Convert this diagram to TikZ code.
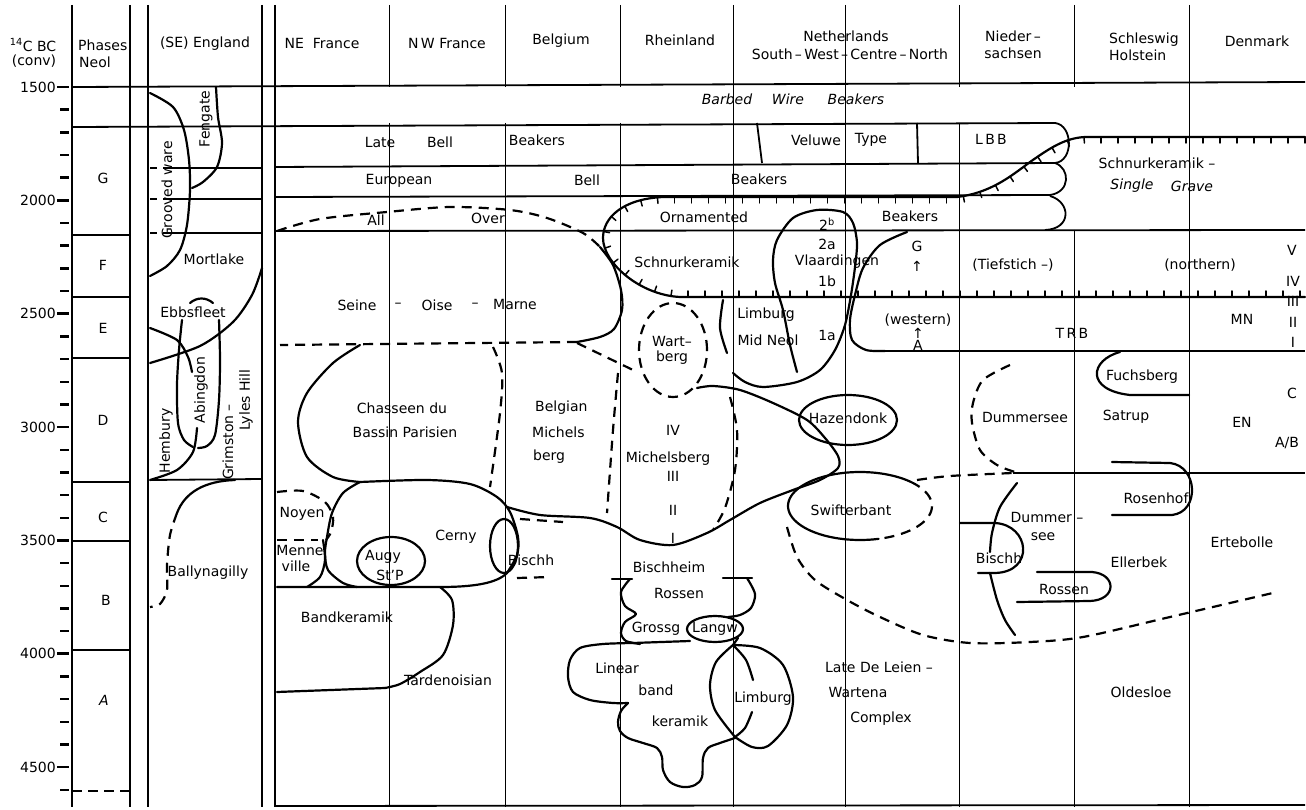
\documentclass[tikz,border=0pt]{standalone}
\usepackage{fontspec}
\setmainfont{DejaVu Sans}
\usetikzlibrary{decorations.markings}
\begin{document}
\begin{tikzpicture}[x=1pt,y=-1pt,
  lbl/.style={font=\fontsize{14}{16}\selectfont, inner sep=0pt},
  ilbl/.style={inner sep=0pt, font=\fontsize{14}{16}\selectfont\itshape},
  bnd/.style={line width=2.2pt, line join=round, line cap=round},
  dsh/.style={line width=2.2pt, dash pattern=on 10pt off 7pt},
  hl/.style={line width=1.8pt},
  vl/.style={line width=0.9pt},
  vk/.style={line width=1.6pt},
  tk/.style={line width=2.4pt},
  hatch/.style={postaction={decorate, decoration={markings,
     mark=between positions 0 and 1 step 17pt with {\draw[line width=1.5pt] (0pt,0pt) -- (0pt,6pt);}}}}
]
\useasboundingbox (0,0) rectangle (1306,810);
\fill[white] (0,0) rectangle (1306,810);

% ---------- vertical column lines ----------
\draw[line width=2pt] (72,5) -- (72,807);
\foreach \x in {130,148,262,275} \draw[vk] (\x,5) -- (\x,807);
\foreach \x in {389,505,620,959} { \draw[vl] (\x,5) -- (\x,87); \draw[vl] (\x,123) -- (\x,807); }
\draw[vl] (1074,5) -- (1074,87) (1074,230) -- (1074,807);
\foreach \x in {733,845,1189} \draw[vl] (\x,5) -- (\x,807);

% ---------- axis ----------
\foreach \k in {0,...,31} \draw[tk] (60,{87+22.67*\k}) -- (69,{87+22.67*\k});
\foreach \v [count=\i from 0] in {1500,2000,2500,3000,3500,4000,4500} {
  \node[lbl,anchor=east] (ax\v) at (56,{87+113.33*\i}) {\v};
  \draw[tk] (57,{87+113.33*\i}) -- (69,{87+113.33*\i});
}

% ---------- horizontal lines ----------
\draw[hl] (72,87) -- (1305,82);
\draw[hl] (72,127) -- (1055,123) .. controls (1073,125) and (1074,161) .. (1055,163) -- (275,167);
\draw[hl] (1055,163) .. controls (1070,168) and (1071,192) .. (1050,195) -- (275,197);
\draw[hl] (1050,196) .. controls (1071,202) and (1072,229) .. (1045,230);
\draw[hl] (275,231) -- (1305,230);
\foreach \y in {168,199,233} \draw[hl] (150,\y) -- (157,\y) (163,\y) -- (262,\y);
\foreach \y in {235,297,358,482,541,650} \draw[hl] (72,\y) -- (130,\y);
\draw[hl, dash pattern=on 10pt off 6pt] (72,791) -- (130,791);
\draw[hl] (275,806) -- (1305,805);
\draw[hl] (757,123) -- (762,163);
\draw[hl] (917,123) -- (918,163);

% ---------- corded ware / single grave hatched boundary ----------
\draw[bnd, hatch] (1305,137) -- (1085,137) .. controls (1065,138) and (1050,148) .. (1030,162)
  .. controls (1010,177) and (990,193) .. (957,197) -- (663,197)
  .. controls (622,199) and (603,218) .. (603,238)
  .. controls (603,263) and (640,295) .. (680,297) -- (1305,297);

% ---------- England ----------
\draw[bnd] plot[smooth] coordinates {(150,93) (173,107) (184,130) (189,160) (190,190) (187,225) (180,250) (167,266) (150,276)};
\draw[bnd] plot[smooth] coordinates {(216,87) (218,117) (222,143) (217,167) (203,182) (192,188)};
\draw[bnd] plot[smooth] coordinates {(262,268) (252,295) (233,322) (200,346) (150,363)};
\draw[bnd] plot[smooth] coordinates {(150,328) (177,340) (188,357) (192,372)};
\draw[bnd] (190,303) .. controls (197,297) and (206,297) .. (213,303);
\draw[bnd] plot[smooth] coordinates {(182,320) (179,350) (177,385) (178,423) (184,440) (193,447)};
\draw[bnd] plot[smooth] coordinates {(219,320) (220,360) (219,400) (215,435) (207,446) (198,448)};
\draw[bnd] plot[smooth] coordinates {(197,428) (193,452) (177,470) (150,480)};
\draw[hl] (150,480) -- (262,479);
\draw[bnd] (235,480) .. controls (205,481) and (185,492) .. (177,513);
\draw[dsh] plot[smooth] coordinates {(177,513) (170,535) (167,565) (167,590) (160,604) (150,607)};

% ---------- NE / NW France ----------
\draw[dsh] plot[smooth] coordinates {(277,231) (320,219) (387,212) (450,207) (510,210) (547,218) (583,233) (600,247)};
\draw[bnd] plot[smooth] coordinates {(600,247) (613,265) (621,290) (622,310) (614,329) (600,337) (577,342)};
\draw[dsh] (577,342) -- (280,345);
\draw[dsh] (577,343) -- (633,370);
\draw[bnd] plot[smooth] coordinates {(360,345) (333,363) (307,393) (298,422) (307,457) (333,477) (360,482)};
\draw[dsh] plot[smooth] coordinates {(493,347) (502,373) (500,413) (490,487)};
\draw[bnd] plot[smooth] coordinates {(360,482) (427,480) (470,484) (497,497) (510,512) (518,537) (517,555) (507,573)};
\draw[bnd] plot[smooth] coordinates {(360,482) (343,493) (332,513) (327,537) (325,553) (328,570) (343,583) (357,587)};
\draw[bnd] (277,587) -- (440,587) .. controls (475,587) and (497,583) .. (507,573);
\draw[bnd] plot[smooth] coordinates {(440,587) (452,600) (453,625) (443,655) (420,672) (400,684) (385,688)};
\draw[bnd] (385,688) -- (277,692);
\draw[bnd] plot[smooth] coordinates {(323,540) (325,560) (320,577) (307,587)};
\draw[dsh] plot[smooth] coordinates {(277,492) (303,491) (325,502) (333,517) (331,532) (326,540)};
\draw[dsh] (277,540) -- (318,540);
\draw[bnd] (391,561) ellipse [x radius=34pt, y radius=24pt];
\draw[bnd] (504,546) ellipse [x radius=14pt, y radius=27pt];
\draw[dsh] (520,519) -- (563,522);
\draw[dsh] (517,578) -- (550,577);

% ---------- Rheinland / Michelsberg ----------
\draw[bnd] plot[smooth] coordinates {(697,388) (713,386) (740,390) (773,403) (807,420) (825,438) (838,456) (838,468) (820,480) (793,490) (760,503) (730,520) (707,533) (673,545) (640,540) (617,527) (590,518) (540,515) (507,507)};
\draw[dsh] (673,350) ellipse [x radius=34pt, y radius=47pt];
\draw[dsh] plot[smooth] coordinates {(618,373) (613,430) (607,513)};
\draw[dsh] plot[smooth] coordinates {(730,397) (737,430) (735,470) (725,508) (713,530)};

% ---------- Netherlands ----------
\draw[bnd] plot[smooth] coordinates {(723,300) (720,328) (727,353)};
\draw[bnd] plot[smooth] coordinates {(797,372) (790,345) (783,310) (775,283) (773,260) (777,240) (793,218) (817,210) (843,212) (853,223) (857,243) (855,267) (851,295) (845,325) (835,350) (820,370) (797,382) (763,387) (745,382) (733,373)};
\draw[bnd] plot[smooth] coordinates {(907,232) (880,245) (863,268) (855,295) (850,320) (852,340) (866,350) (885,351)};
\draw[hl] (885,351) -- (1305,351);
\draw[bnd] (848,420) ellipse [x radius=49pt, y radius=25pt];
\draw[bnd] plot[domain=75:315, samples=60, smooth] ({860+72*cos(\x)},{506+34*sin(\x)});
\draw[dsh] plot[domain=-45:75, samples=30, smooth] ({860+72*cos(\x)},{506+34*sin(\x)});
\draw[dsh] plot[smooth] coordinates {(917,480) (950,476) (1013,473)};
\draw[hl] (1013,473) -- (1305,473);
\draw[dsh] plot[smooth] coordinates {(787,527) (797,557) (815,580) (847,600) (880,617) (923,635) (970,643) (1030,642) (1083,637) (1170,617) (1277,592)};

% ---------- Niedersachsen / Schleswig ----------
\draw[dsh] plot[smooth] coordinates {(1010,365) (983,380) (973,403) (972,423) (980,450) (997,465) (1015,472)};
\draw[bnd] plot[smooth] coordinates {(1017,483) (1000,507) (992,533) (990,552)};
\draw[bnd] (960,523) -- (995,523) .. controls (1030,525) and (1035,572) .. (995,573) -- (978,573);
\draw[bnd] plot[smooth] coordinates {(990,573) (997,600) (1005,620) (1015,635)};
\draw[bnd] (1120,352) .. controls (1090,360) and (1085,390) .. (1130,395) -- (1189,395);
\draw[bnd] (1112,462) -- (1170,463) .. controls (1198,466) and (1200,512) .. (1172,515) -- (1112,515);
\draw[bnd] (1037,572) -- (1092,572) .. controls (1117,574) and (1117,600) .. (1090,601) -- (1017,602);

% ---------- Rheinland lower ----------
\draw[bnd] (612,579) -- (632,579);
\draw[bnd] (723,578) -- (752,578);
\draw[bnd] plot[smooth, tension=0.5] coordinates {(630,579) (621,592) (625,606) (636,614) (625,622) (621,633) (626,641) (640,644)};
\draw[bnd] (633,643) -- (690,641);
\draw[bnd] plot[smooth] coordinates {(747,578) (755,594) (751,608) (740,615) (728,617)};
\draw[bnd] (715,629) ellipse [x radius=28pt, y radius=13pt];
\draw[bnd] plot[smooth] coordinates {(633,643) (603,644) (580,648) (570,660) (568,677) (573,692) (590,700) (613,703) (628,703)};
\draw[bnd] plot[smooth, tension=0.55] coordinates {(628,703) (621,711) (618,722) (620,731) (628,738) (643,743) (657,748) (662,757) (663,770) (670,782) (683,787) (695,785) (702,777) (703,758) (708,748) (720,743) (735,738)};
\draw[bnd] (738,638) -- (733,645);
\draw[bnd] plot[smooth] coordinates {(733,645) (716,662) (710,685) (715,710) (735,737)};
\draw[bnd] plot[smooth] coordinates {(733,645) (746,660) (753,680)};
\draw[bnd] plot[smooth] coordinates {(752,712) (745,728) (735,737)};
\draw[bnd] plot[smooth] coordinates {(733,645) (760,648) (783,665) (793,697) (787,725) (768,746) (752,747) (735,737)};

% ---------- headers ----------
\node[lbl] (hC) at (33,45) {\textsuperscript{14}C BC};
\node[lbl] (hconv) at (34,61) {(conv)};
\node[lbl,anchor=west] (hph) at (78,45) {Phases};
\node[lbl,anchor=west] (hneol) at (79,62) {Neol};
\node[lbl] (hEng) at (205,44) {(SE) England};
\node[lbl] (hNEF) at (322,43) {NE\ \ France};
\node[lbl] (hNWF) at (447,43) {N\,W France};
\node[lbl] (hBel) at (561,41) {Belgium};
\node[lbl] (hRh) at (680,40) {Rheinland};
\node[lbl] (hNL) at (846,36) {Netherlands};
\node[lbl] (hNL2) at (850,54) {South\,–\,West\,–\,Centre\,–\,North};
\node[lbl] (hNS) at (1013,36) {Nieder\,–};
\node[lbl] (hNS2) at (1013,53) {sachsen};
\node[lbl,anchor=west] (hSH) at (1109,40) {Schleswig};
\node[lbl,anchor=west] (hSH2) at (1109,55) {Holstein};
\node[lbl] (hDK) at (1257,41) {Denmark};

% ---------- phases ----------
\node[lbl] (pG) at (103,178) {G};
\node[lbl] (pF) at (103,265) {F};
\node[lbl] (pE) at (103,328) {E};
\node[lbl] (pD) at (103,420) {D};
\node[lbl] (pC) at (103,517) {C};
\node[lbl] (pB) at (106,600) {B};
\node[ilbl] (pA) at (104,700) {A};

% ---------- England labels ----------
\node[lbl,rotate=90] (tFen) at (206,119) {Fengate};
\node[lbl,rotate=90] (tGrv) at (167,190) {Grooved ware};
\node[lbl] (tMort) at (214,259) {Mortlake};
\node[lbl] (tEbb) at (193,312) {Ebbsfleet};
\node[lbl,rotate=90] (tAbi) at (201,390) {Abingdon};
\node[lbl,rotate=90] (tHem) at (166,441) {Hembury};
\node[lbl,rotate=90] (tGri) at (228,442) {Grimston –};
\node[lbl,rotate=90] (tLyl) at (246,400) {Lyles Hill};
\node[lbl] (tBal) at (208,573) {Ballynagilly};

% ---------- bands ----------
\node[ilbl] (tBW1) at (727,99) {Barbed};
\node[ilbl] (tBW2) at (788,99) {Wire};
\node[ilbl] (tBW3) at (856,99) {Beakers};
\node[lbl] (tLate) at (380,142) {Late};
\node[lbl] (tBell1) at (440,142) {Bell};
\node[lbl] (tBk1) at (537,140) {Beakers};
\node[lbl] (tVel) at (816,140) {Veluwe};
\node[lbl] (tType) at (871,140) {Type};
\node[lbl] (tLBB) at (991,139) {L\,B\,B};
\node[lbl] (tEur) at (399,181) {European};
\node[lbl] (tBell2) at (587,180) {Bell};
\node[lbl] (tBk2) at (759,179) {Beakers};
\node[lbl] (tAll) at (376,220) {All};
\node[lbl] (tOver) at (488,218) {Over};
\node[lbl] (tOrn) at (704,217) {Ornamented};
\node[lbl] (tBk3) at (910,216) {Beakers};
\node[lbl] (tSK) at (1157,163) {Schnurkeramik –};
\node[ilbl] (tSing) at (1132,186) {Single};
\node[ilbl] (tGrave) at (1192,186) {Grave};

% ---------- middle ----------
\node[lbl] (tSchn) at (687,262) {Schnurkeramik};
\node[lbl] (t2b) at (827,224) {2\textsuperscript{b}};
\node[lbl] (t2a) at (827,244) {2a};
\node[lbl] (tVla) at (837,262) {Vlaardingen};
\node[lbl] (t1b) at (827,281) {1b};
\node[lbl] (t1a) at (827,335) {1a};
\node[lbl] (tLim1) at (766,315) {Limburg};
\node[lbl] (tMid) at (768,340) {Mid Neol};
\node[lbl] (tG) at (917,246) {G};
\node[lbl] (tGa) at (917,266) {↑};
\node[lbl] (tTief) at (1013,265) {(Tiefstich –)};
\node[lbl] (tNorth) at (1200,265) {(northern)};
\node[lbl] (tV) at (1292,250) {V};
\node[lbl] (tIV) at (1293,281) {IV};
\node[lbl] (tIII) at (1293,301) {III};
\node[lbl] (tII) at (1293,322) {II};
\node[lbl] (tI) at (1293,342) {I};
\node[lbl] (tWest) at (918,320) {(western)};
\node[lbl] (tWa) at (918,333) {↑};
\node[lbl] (tWA) at (918,345) {A};
\node[lbl] (tTRB) at (1072,333) {T\,R\,B};
\node[lbl] (tMN) at (1242,319) {MN};
\node[lbl] (tSeine) at (357,305) {Seine};
\node[lbl] (tSd1) at (398,305) {–};
\node[lbl] (tOise) at (437,305) {Oise};
\node[lbl] (tSd2) at (475,305) {–};
\node[lbl] (tMarne) at (515,304) {Marne};
\node[lbl] (tWart) at (672,341) {Wart–};
\node[lbl] (tWberg) at (672,358) {berg};
\node[lbl] (tCha1) at (402,408) {Chasseen du};
\node[lbl] (tCha2) at (405,432) {Bassin Parisien};
\node[lbl,anchor=west] (tBM1) at (535,408) {Belgian};
\node[lbl,anchor=west] (tBM2) at (532,432) {Michels};
\node[lbl,anchor=west] (tBM3) at (533,457) {berg};
\node[lbl] (tMIV) at (673,430) {IV};
\node[lbl] (tMich) at (668,459) {Michelsberg};
\node[lbl] (tMIII) at (673,476) {III};
\node[lbl] (tMII) at (673,510) {II};
\node[lbl] (tMI) at (673,538) {I};
\node[lbl] (tHaz) at (848,418) {Hazendonk};
\node[lbl] (tSwi) at (851,510) {Swifterbant};
\node[lbl] (tDum) at (1025,417) {Dummersee};
\node[lbl] (tSat) at (1126,417) {Satrup};
\node[lbl] (tFuch) at (1142,377) {Fuchsberg};
\node[lbl] (tEN) at (1242,422) {EN};
\node[lbl] (tC) at (1292,393) {C};
\node[lbl] (tAB) at (1287,443) {A/B};
\node[lbl] (tRos) at (1156,498) {Rosenhof};
\node[lbl] (tDum2) at (1047,517) {Dummer\ –};
\node[lbl] (tDum3) at (1043,537) {see};
\node[lbl] (tErt) at (1242,542) {Ertebolle};

% ---------- lower ----------
\node[lbl] (tNoy) at (302,514) {Noyen};
\node[lbl] (tMen1) at (300,550) {Menne};
\node[lbl] (tMen2) at (296,566) {ville};
\node[lbl] (tCer) at (456,537) {Cerny};
\node[lbl] (tAug) at (383,557) {Augy};
\node[lbl] (tStP) at (390,575) {St'P};
\node[lbl] (tBand) at (347,617) {Bandkeramik};
\node[lbl] (tTard) at (448,680) {Tardenoisian};
\node[lbl] (tBisB) at (531,560) {Bischh};
\node[lbl] (tBisR) at (669,567) {Bischheim};
\node[lbl] (tRosR) at (679,593) {Rossen};
\node[lbl] (tGro) at (656,629) {Grossg};
\node[lbl] (tLan) at (715,629) {Langw};
\node[lbl] (tLin) at (617,668) {Linear};
\node[lbl] (tBnd) at (656,690) {band};
\node[lbl] (tKer) at (680,721) {keramik};
\node[lbl] (tLim2) at (763,699) {Limburg};
\node[lbl] (tLDL) at (879,667) {Late De Leien –};
\node[lbl] (tWar) at (858,692) {Wartena};
\node[lbl] (tCom) at (881,719) {Complex};
\node[lbl] (tBisN) at (999,558) {Bischh};
\node[lbl] (tEll) at (1139,562) {Ellerbek};
\node[lbl] (tRosS) at (1064,589) {Rossen};
\node[lbl] (tOld) at (1141,692) {Oldesloe};
\end{tikzpicture}
\end{document}
